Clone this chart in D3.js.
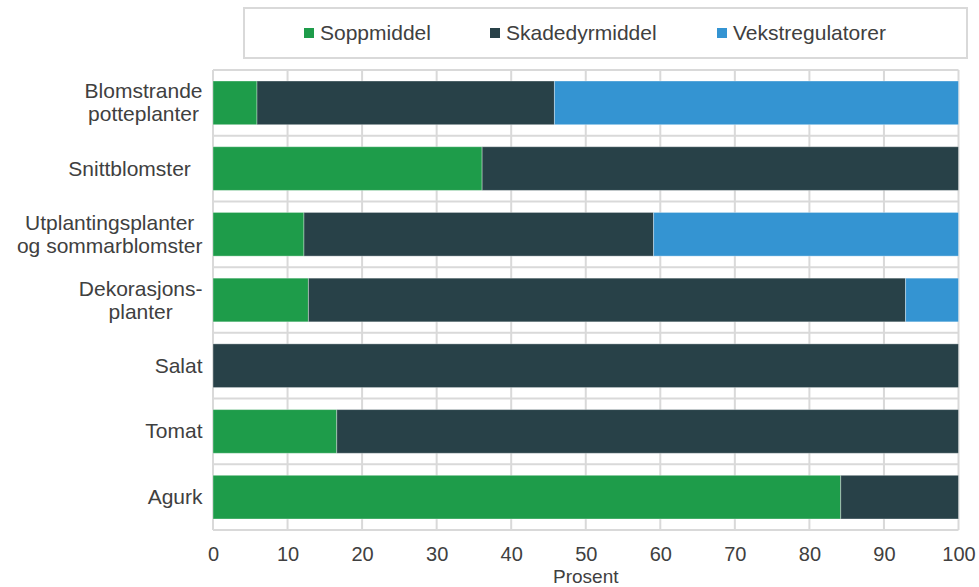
<!DOCTYPE html>
<html>
<head>
<meta charset="utf-8">
<script src="https://cdn.jsdelivr.net/npm/d3@7"></script>
<style>
  html, body { margin: 0; padding: 0; background: #fff; }
  text { font-family: "Liberation Sans", Arial, sans-serif; fill: #404040; }
</style>
</head>
<body>
<svg id="chart" width="979" height="587"></svg>
<script>
// ---- data ----
const categories = [
  ["Blomstrande", "potteplanter"],
  ["Snittblomster\u00a0\u00a0"],
  ["Utplantingsplanter", "og sommarblomster"],
  ["Dekorasjons-", "planter"],
  ["Salat"],
  ["Tomat"],
  ["Agurk"]
];
const seriesNames = ["Soppmiddel", "Skadedyrmiddel", "Vekstregulatorer"];
const soppmiddel       = [5.9, 36.1, 12.2, 12.8, 0,   16.6, 84.2];
const skadedyrmiddel   = [39.9, 63.9, 46.9, 80.1, 100, 83.4, 15.8];
const vekstregulatorer = [54.2, 0,   40.9, 7.1,  0,   0,    0];
const xTicks = [0, 10, 20, 30, 40, 50, 60, 70, 80, 90, 100];
const xTitle = "Prosent";
const colors = ["#1e9c4a", "#284148", "#3494d2"];

// ---- layout ----
const svg = d3.select("#chart");
const pLeft = 213, pRight = 958.5, pTop = 70, pBottom = 530;

const x = d3.scaleLinear().domain([0, 100]).range([pLeft, pRight]);
const ids = categories.map((d, i) => i);
const y = d3.scaleBand().domain(ids).range([pTop, pBottom])
  .paddingInner(0.335).paddingOuter(0.1675);

const rows = ids.map(i => ({ i, v: [soppmiddel[i], skadedyrmiddel[i], vekstregulatorer[i]] }));
const stack = d3.stack().keys([0, 1, 2]).value((d, k) => d.v[k]);
const stacked = stack(rows);

// grid
const grid = svg.append("g").attr("stroke", "#d9d9d9").attr("stroke-width", 2);
xTicks.forEach(t => {
  grid.append("line").attr("x1", x(t)).attr("x2", x(t)).attr("y1", pTop).attr("y2", pBottom);
});
const step = y.step();
for (let k = 0; k <= categories.length; k++) {
  const yy = pTop + k * step;
  grid.append("line").attr("x1", pLeft).attr("x2", x(100)).attr("y1", yy).attr("y2", yy);
}

// bars
svg.append("g").selectAll("g").data(stacked).join("g")
  .attr("fill", (d, k) => colors[k])
  .selectAll("rect").data(d => d.filter(s => s[1] - s[0] > 0)).join("rect")
  .attr("x", d => x(d[0]))
  .attr("width", d => x(d[1]) - x(d[0]))
  .attr("y", d => y(d.data.i))
  .attr("height", y.bandwidth())
  .attr("stroke", "rgba(255,255,255,0.35)")
  .attr("stroke-width", 1);

// x axis labels
const xAxis = d3.axisBottom(x).tickValues(xTicks).tickSize(0).tickPadding(0).tickFormat(d3.format("d"));
const gx = svg.append("g").attr("transform", `translate(0,${pBottom})`).call(xAxis);
gx.select(".domain").remove();
gx.selectAll("text").attr("font-size", 20).attr("dy", null).attr("y", 31)
  .style("font-family", '"Liberation Sans", Arial, sans-serif').attr("fill", "#404040");

svg.append("text").attr("x", (pLeft + pRight) / 2).attr("y", 582.5)
  .attr("text-anchor", "middle").attr("font-size", 19).text(xTitle);

// category labels
const labelRight = 202.5;
const lineH = 23;
categories.forEach((lines, i) => {
  const cy = y(i) + y.bandwidth() / 2;
  const g = svg.append("g");
  const texts = lines.map((ln, j) => g.append("text")
    .attr("font-size", 21)
    .attr("text-anchor", "middle")
    .attr("y", cy + (j - (lines.length - 1) / 2) * lineH + 7)
    .text(ln));
  const maxW = d3.max(texts, t => t.node().getComputedTextLength());
  texts.forEach(t => t.attr("x", labelRight - maxW / 2));
});

// legend
svg.append("rect").attr("x", 244).attr("y", 8).attr("width", 723).attr("height", 50)
  .attr("fill", "#fff").attr("stroke", "#d9d9d9").attr("stroke-width", 2);
const legendX = [304, 490, 717];
seriesNames.forEach((name, k) => {
  svg.append("rect").attr("x", legendX[k]).attr("y", 28).attr("width", 10).attr("height", 10)
    .attr("fill", colors[k]);
  svg.append("text").attr("x", legendX[k] + 16).attr("y", 40)
    .attr("font-size", 21).text(name);
});
</script>
</body>
</html>
